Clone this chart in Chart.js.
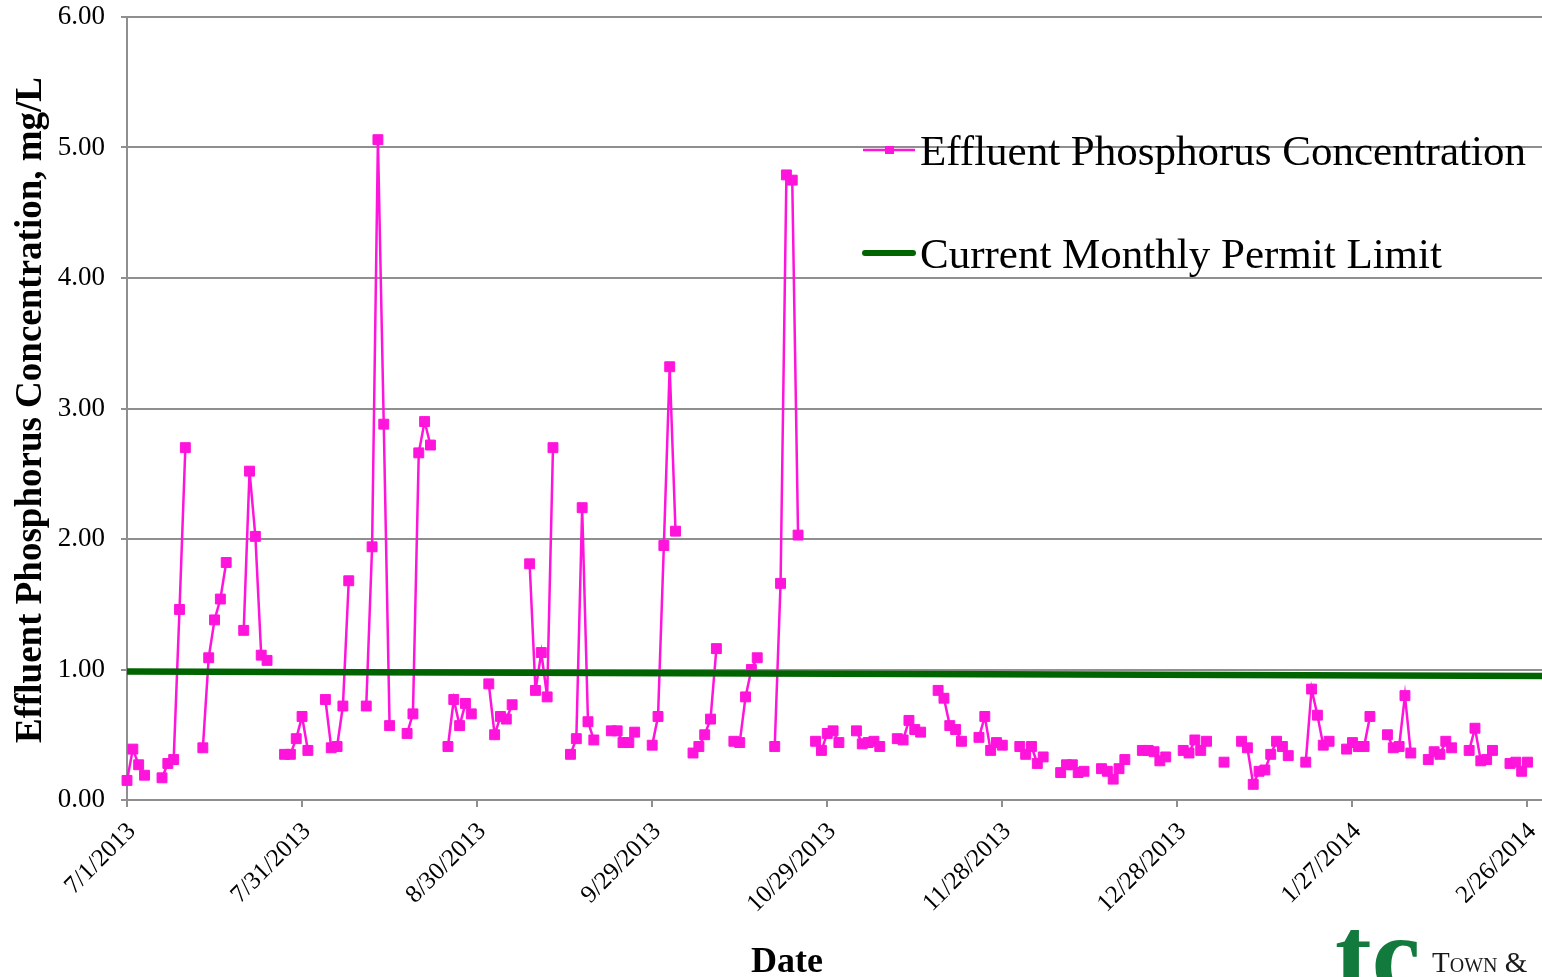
<!DOCTYPE html>
<html>
<head>
<meta charset="utf-8">
<title>Effluent Phosphorus Concentration</title>
<script src="https://cdn.jsdelivr.net/npm/chart.js@4.4.0/dist/chart.umd.min.js"></script>
<style>
  html, body { margin: 0; padding: 0; background: #fff; overflow: hidden; }
  #wrap { width: 1542px; height: 977px; overflow: hidden; }
  canvas { display: block; }
</style>
</head>
<body>
<div id="wrap"><canvas id="phosphorusChart" width="1545" height="977"></canvas></div>
<script>
// sample dates (one line per week) and the measured values, mg/L
const sampleDates = [
  '7/1/2013', '7/2/2013', '7/3/2013', '7/4/2013',
  '7/7/2013', '7/8/2013', '7/9/2013', '7/10/2013', '7/11/2013',
  '7/14/2013', '7/15/2013', '7/16/2013', '7/17/2013', '7/18/2013',
  '7/21/2013', '7/22/2013', '7/23/2013', '7/24/2013', '7/25/2013',
  '7/28/2013', '7/29/2013', '7/30/2013', '7/31/2013', '8/1/2013',
  '8/4/2013', '8/5/2013', '8/6/2013', '8/7/2013', '8/8/2013',
  '8/11/2013', '8/12/2013', '8/13/2013', '8/14/2013', '8/15/2013',
  '8/18/2013', '8/19/2013', '8/20/2013', '8/21/2013', '8/22/2013',
  '8/25/2013', '8/26/2013', '8/27/2013', '8/28/2013', '8/29/2013',
  '9/1/2013', '9/2/2013', '9/3/2013', '9/4/2013', '9/5/2013',
  '9/8/2013', '9/9/2013', '9/10/2013', '9/11/2013', '9/12/2013',
  '9/15/2013', '9/16/2013', '9/17/2013', '9/18/2013', '9/19/2013',
  '9/22/2013', '9/23/2013', '9/24/2013', '9/25/2013', '9/26/2013',
  '9/29/2013', '9/30/2013', '10/1/2013', '10/2/2013', '10/3/2013',
  '10/6/2013', '10/7/2013', '10/8/2013', '10/9/2013', '10/10/2013',
  '10/13/2013', '10/14/2013', '10/15/2013', '10/16/2013', '10/17/2013',
  '10/20/2013', '10/21/2013', '10/22/2013', '10/23/2013', '10/24/2013',
  '10/27/2013', '10/28/2013', '10/29/2013', '10/30/2013', '10/31/2013',
  '11/3/2013', '11/4/2013', '11/5/2013', '11/6/2013', '11/7/2013',
  '11/10/2013', '11/11/2013', '11/12/2013', '11/13/2013', '11/14/2013',
  '11/17/2013', '11/18/2013', '11/19/2013', '11/20/2013', '11/21/2013',
  '11/24/2013', '11/25/2013', '11/26/2013', '11/27/2013', '11/28/2013',
  '12/1/2013', '12/2/2013', '12/3/2013', '12/4/2013', '12/5/2013',
  '12/8/2013', '12/9/2013', '12/10/2013', '12/11/2013', '12/12/2013',
  '12/15/2013', '12/16/2013', '12/17/2013', '12/18/2013', '12/19/2013',
  '12/22/2013', '12/23/2013', '12/24/2013', '12/25/2013', '12/26/2013',
  '12/29/2013', '12/30/2013', '12/31/2013', '1/1/2014', '1/2/2014',
  '1/5/2014',
  '1/8/2014', '1/9/2014', '1/10/2014', '1/11/2014', '1/12/2014', '1/13/2014', '1/14/2014', '1/15/2014', '1/16/2014',
  '1/19/2014', '1/20/2014', '1/21/2014', '1/22/2014', '1/23/2014',
  '1/26/2014', '1/27/2014', '1/28/2014', '1/29/2014', '1/30/2014',
  '2/2/2014', '2/3/2014', '2/4/2014', '2/5/2014', '2/6/2014',
  '2/9/2014', '2/10/2014', '2/11/2014', '2/12/2014', '2/13/2014',
  '2/16/2014', '2/17/2014', '2/18/2014', '2/19/2014', '2/20/2014',
  '2/23/2014', '2/24/2014', '2/25/2014', '2/26/2014'
];

const phosphorus = [
  0.15, 0.39, 0.27, 0.19,
  0.17, 0.28, 0.31, 1.46, 2.70,
  0.40, 1.09, 1.38, 1.54, 1.82,
  1.30, 2.52, 2.02, 1.11, 1.07,
  0.35, 0.35, 0.47, 0.64, 0.38,
  0.77, 0.40, 0.41, 0.72, 1.68,
  0.72, 1.94, 5.06, 2.88, 0.57,
  0.51, 0.66, 2.66, 2.90, 2.72,
  0.41, 0.77, 0.57, 0.74, 0.66,
  0.89, 0.50, 0.64, 0.62, 0.73,
  1.81, 0.84, 1.13, 0.79, 2.70,
  0.35, 0.47, 2.24, 0.60, 0.46,
  0.53, 0.53, 0.44, 0.44, 0.52,
  0.42, 0.64, 1.95, 3.32, 2.06,
  0.36, 0.41, 0.50, 0.62, 1.16,
  0.45, 0.44, 0.79, 1.00, 1.09,
  0.41, 1.66, 4.79, 4.75, 2.03,
  0.45, 0.38, 0.51, 0.53, 0.44,
  0.53, 0.43, 0.44, 0.45, 0.41,
  0.47, 0.46, 0.61, 0.54, 0.52,
  0.84, 0.78, 0.57, 0.54, 0.45,
  0.48, 0.64, 0.38, 0.44, 0.42,
  0.41, 0.35, 0.41, 0.28, 0.33,
  0.21, 0.27, 0.27, 0.21, 0.22,
  0.24, 0.22, 0.16, 0.24, 0.31,
  0.38, 0.38, 0.37, 0.30, 0.33,
  0.38, 0.36, 0.46, 0.38, 0.45,
  0.29,
  0.45, 0.40, 0.12, 0.22, 0.23, 0.35, 0.45, 0.41, 0.34,
  0.29, 0.85, 0.65, 0.42, 0.45,
  0.39, 0.44, 0.41, 0.41, 0.64,
  0.50, 0.40, 0.41, 0.80, 0.36,
  0.31, 0.37, 0.35, 0.45, 0.40,
  0.38, 0.55, 0.30, 0.31, 0.38,
  0.28, 0.29, 0.22, 0.29
];

// monthly permit limit line
const permitDates = ['7/1/2013', '3/1/2014'];
const permitLimit = [0.985, 0.95];

const tickDates = ['7/1/2013', '7/31/2013', '8/30/2013', '9/29/2013', '10/29/2013',
                   '11/28/2013', '12/28/2013', '1/27/2014', '2/26/2014'];
const axisStart = '7/1/2013';
const axisEnd = '3/1/2014';

const seriesNames = ['Effluent Phosphorus Concentration', 'Current Monthly Permit Limit'];

const SERIF = "'Liberation Serif', 'Times New Roman', serif";
const PINK = '#ff14dc';
const GREEN = '#006400';
const GRID = '#8f8f8f';

function toUTC(label) {
  const [m, d, y] = label.split('/').map(Number);
  return Date.UTC(y, m - 1, d);
}
// days since the first day of the axis
function dayOf(label) {
  return (toUTC(label) - toUTC(axisStart)) / 86400000;
}

const tickLabelByDay = {};
tickDates.forEach(t => { tickLabelByDay[dayOf(t)] = t; });

// legend, axis titles and the logo are drawn by hand
const decorations = {
  id: 'decorations',
  afterDraw(chart) {
    const ctx = chart.ctx;
    const ds = chart.data.datasets;
    ctx.save();

    // legend
    ctx.font = '43px ' + SERIF;
    ctx.fillStyle = '#000';
    ctx.textBaseline = 'alphabetic';
    ctx.textAlign = 'left';
    ctx.lineCap = 'butt';

    ctx.strokeStyle = ds[0].borderColor;
    ctx.lineWidth = 2.5;
    ctx.beginPath(); ctx.moveTo(863, 150); ctx.lineTo(915, 150); ctx.stroke();
    ctx.fillStyle = ds[0].borderColor;
    ctx.fillRect(885, 146, 9, 8);
    ctx.fillStyle = '#000';
    ctx.fillText(ds[0].label, 920, 165);

    ctx.strokeStyle = ds[1].borderColor;
    ctx.lineWidth = 6;
    ctx.lineCap = 'round';
    ctx.beginPath(); ctx.moveTo(865, 253); ctx.lineTo(913, 253); ctx.stroke();
    ctx.fillText(ds[1].label, 920, 268);

    // y axis title
    ctx.save();
    ctx.translate(41, 410);
    ctx.rotate(-Math.PI / 2);
    ctx.font = 'bold 37px ' + SERIF;
    ctx.textAlign = 'center';
    ctx.fillText('Effluent Phosphorus Concentration, mg/L', 0, 0);
    ctx.restore();

    // x axis title
    ctx.font = 'bold 36px ' + SERIF;
    ctx.textAlign = 'center';
    ctx.fillText('Date', 787, 972);

    // logo
    ctx.textAlign = 'left';
    ctx.fillStyle = '#137a3d';
    ctx.font = 'bold 110px ' + SERIF;
    ctx.fillText('tc', 1335, 992);
    ctx.fillStyle = '#1a1a1a';
    ctx.font = 'small-caps 29px ' + SERIF;
    ctx.fillText('Town &', 1432, 972);

    ctx.restore();
  }
};

const chart = new Chart(document.getElementById('phosphorusChart'), {
  type: 'line',
  data: {
    datasets: [{
      label: seriesNames[0],
      data: sampleDates.map((d, i) => ({ x: dayOf(d), y: phosphorus[i] })),
      borderColor: PINK,
      backgroundColor: PINK,
      borderWidth: 2.5,
      pointStyle: 'rect',
      pointRadius: 7,
      pointBorderWidth: 1,
      pointBorderColor: PINK,
      pointBackgroundColor: PINK,
      tension: 0,
      clip: false,
      // no line across days without a sample
      segment: {
        borderColor: c => (c.p1.parsed.x - c.p0.parsed.x > 1 ? 'rgba(0,0,0,0)' : undefined)
      }
    }, {
      label: seriesNames[1],
      data: permitDates.map((d, i) => ({ x: dayOf(d), y: permitLimit[i] })),
      borderColor: GREEN,
      backgroundColor: GREEN,
      borderWidth: 6.5,
      pointRadius: 0,
      order: -1
    }]
  },
  options: {
    responsive: false,
    animation: false,
    layout: { autoPadding: false, padding: { top: 17, left: 0, right: 0, bottom: 0 } },
    plugins: {
      legend: { display: false },
      tooltip: { enabled: false }
    },
    scales: {
      x: {
        type: 'linear',
        min: dayOf(axisStart),
        max: dayOf(axisEnd),
        afterBuildTicks: scale => {
          scale.ticks = tickDates.map(t => ({ value: dayOf(t) }));
        },
        afterFit: scale => {
          scale.height = 177;
          scale.paddingLeft = 0;
          scale.paddingRight = 0;
          scale.paddingTop = 0;
          scale.paddingBottom = 0;
        },
        grid: { drawOnChartArea: false, drawTicks: true, tickLength: 7, color: GRID, lineWidth: 2 },
        border: { color: GRID, width: 2 },
        ticks: {
          autoSkip: false,
          maxRotation: 45,
          minRotation: 45,
          padding: 10,
          labelOffset: 5,
          color: '#000',
          font: { family: SERIF, size: 25 },
          callback: v => tickLabelByDay[v] || ''
        }
      },
      y: {
        min: 0,
        max: 6,
        afterFit: scale => {
          scale.width = 127;
          scale.paddingTop = 0;
          scale.paddingBottom = 0;
          scale.paddingLeft = 0;
          scale.paddingRight = 0;
        },
        grid: { color: GRID, lineWidth: 2, tickLength: 6 },
        border: { color: GRID, width: 2 },
        ticks: {
          stepSize: 1,
          padding: 16,
          color: '#000',
          font: { family: SERIF, size: 27 },
          callback: v => v.toFixed(2)
        }
      }
    }
  },
  plugins: [decorations]
});
</script>
</body>
</html>
